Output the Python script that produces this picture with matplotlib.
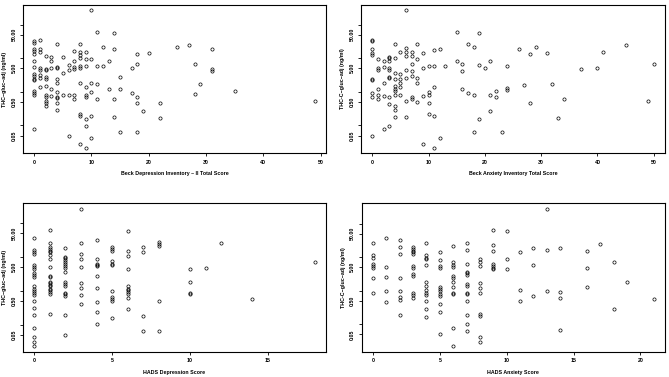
import matplotlib
matplotlib.use("Agg")
import matplotlib.pyplot as plt
from matplotlib.ticker import FixedLocator, FixedFormatter, NullLocator

plt.rcParams['font.family'] = ['Liberation Sans', 'DejaVu Sans']

# ---------------- data ----------------
bdi_score = [
    0, 0, 0, 0, 0, 0, 0, 0, 0, 0, 0, 0, 0, 0, 0,
    1, 1, 1, 1, 1, 1, 1, 1,
    2, 2, 2, 2, 2, 2, 2, 2, 2, 2, 2,
    3, 3, 3, 3, 3,
    4, 4, 4, 4, 4, 4, 4, 4, 4, 4,
    5, 5, 5,
    6, 6, 6, 6,
    7, 7, 7, 7, 7, 7,
    8, 8, 8, 8, 8, 8, 8, 8, 8, 8,
    9, 9, 9, 9, 9, 9, 9, 9, 9,
    10, 10, 10, 10, 10, 10,
    11, 11, 11, 11,
    12, 12,
    13, 13,
    14, 14, 14, 14,
    15, 15, 15,
    17, 17,
    18, 18, 18, 18, 18,
    19, 20, 22, 22, 25, 27, 28, 28, 29, 31, 31, 31, 35, 49]
bdi_thc = [
    31.6, 27.5, 18.6, 15.8, 13.5, 8.1, 5.36, 3.38, 2.94, 2.45, 2.23, 1.02, 0.91, 0.79, 0.077,
    35.4, 18.6, 15.1, 5.0, 4.46, 3.08, 2.56, 1.35,
    12.0, 4.78, 4.36, 2.81, 2.34, 1.44, 0.79, 0.71, 0.52, 0.45, 0.39,
    11.2, 8.1, 5.0, 1.23, 0.74,
    26.2, 5.61, 5.0, 2.45, 1.82, 1.0, 0.69, 0.66, 0.45, 0.29,
    10.7, 3.62, 0.81,
    6.3, 4.46, 0.81, 0.047,
    16.9, 8.3, 5.61, 4.67, 0.81, 0.62,
    26.2, 15.1, 12.6, 10.4, 6.0, 5.0, 1.86, 0.22, 0.195, 0.028,
    15.1, 9.75, 5.74, 1.35, 0.81, 0.69, 0.158, 0.0975, 0.022,
    262, 9.75, 1.77, 1.0, 0.195, 0.042,
    60, 5.74, 1.66, 0.59,
    21.3, 5.74,
    8.3, 1.20,
    57, 18.2, 0.59, 0.177,
    2.69, 1.23, 0.064,
    5.0, 0.95,
    13.5, 6.9, 0.69, 0.48, 0.064,
    0.275, 14.4, 0.48, 0.17, 21.8, 24.5, 6.6, 0.85, 1.73, 18.6, 4.67, 4.26, 1.02, 0.55]

bai_score = [
    0, 0, 0, 0, 0, 0, 0, 0, 0, 0,
    1, 1, 1, 1, 1, 1,
    2, 2, 2, 2, 2,
    3, 3, 3, 3, 3, 3, 3, 3, 3, 3,
    4, 4, 4, 4, 4, 4, 4, 4, 4, 4, 4,
    5, 5, 5, 5, 5, 5,
    6, 6, 6, 6, 6, 6, 6, 6,
    7, 7, 7, 7, 7, 7, 7,
    8, 8, 8, 8, 8,
    9, 9, 9, 9,
    10, 10, 10, 10, 10,
    11, 11, 11, 11, 11,
    12, 12,
    13,
    15, 15,
    16, 16, 16,
    17, 17,
    18, 18, 18,
    19, 19, 19,
    20,
    21, 21, 21,
    22, 22,
    23,
    24, 24, 24,
    26, 27, 28, 28,
    29, 31, 32, 33, 34, 37, 40, 41, 45, 49, 50]
bai_thc = [
    35.4, 31.6, 18.6, 14.4, 12.3, 2.45, 2.29, 0.95, 0.69, 0.047,
    9.75, 5.0, 4.46, 1.23, 0.81, 0.62,
    8.1, 5.6, 1.82, 0.77, 0.076,
    11.2, 9.9, 8.1, 5.0, 4.36, 2.81, 2.63, 0.68, 0.44, 0.0975,
    26.9, 10.2, 3.5, 2.45, 1.48, 1.23, 1.05, 0.83, 0.39, 0.29, 0.177,
    15.1, 3.38, 2.45, 1.86, 1.35, 0.81,
    262, 19.5, 15.4, 11.7, 4.46, 2.63, 0.52, 0.177,
    15.1, 11.7, 6.9, 4.2, 2.88, 0.69, 0.59,
    26.2, 9.5, 2.63, 1.86, 0.49,
    14.4, 5.0, 0.74, 0.028,
    5.74, 1.0, 0.81, 0.48, 0.22,
    17.8, 5.74, 1.35, 0.195, 0.022,
    18.2, 0.042,
    5.74,
    60, 8.3,
    6.5, 4.26, 1.17,
    26.2, 0.93,
    21.8, 0.83, 0.064,
    57, 6.2, 0.158,
    5.0,
    8.3, 0.79, 0.275,
    1.05, 0.69,
    0.064,
    5.74, 1.26, 1.10,
    18.6, 1.62, 13.5, 0.48,
    21.3, 14.4, 1.73, 0.17, 0.59, 4.67, 5.1, 15.5, 24.4, 0.55, 6.6]

hadsd_score = [
    0, 0, 0, 0, 0, 0, 0, 0, 0, 0, 0, 0, 0, 0, 0, 0, 0, 0, 0, 0, 0, 0,
    1, 1, 1, 1, 1, 1, 1, 1, 1, 1, 1, 1, 1, 1, 1, 1, 1, 1, 1, 1,
    2, 2, 2, 2, 2, 2, 2, 2, 2, 2, 2, 2, 2, 2, 2, 2, 2,
    3, 3, 3, 3, 3, 3, 3, 3, 3,
    4, 4, 4, 4, 4, 4, 4, 4, 4, 4,
    5, 5, 5, 5, 5, 5, 5, 5, 5, 5, 5,
    6, 6, 6, 6, 6, 6, 6, 6, 6, 6, 6,
    7, 7, 7, 7,
    8, 8, 8, 8, 8,
    10, 10, 10, 10,
    11, 12, 14, 18]
hadsd_thc = [
    36.2, 15.8, 13.8, 12.0, 6.0, 5.24, 4.56, 3.46, 3.01, 2.56, 1.41, 1.12, 0.975, 0.85, 0.76,
    0.50, 0.31, 0.19, 0.079, 0.0426, 0.030, 0.0229,
    63, 26.9, 19.9, 17.7, 15.5, 13.8, 11.2, 8.5, 5.24, 2.81, 2.56, 1.86, 1.69, 1.51, 1.35,
    1.17, 1.04, 0.93, 0.81, 0.204,
    18.2, 10.2, 9.1, 7.9, 7.1, 6.15, 5.36, 4.78, 3.71, 1.86, 1.55, 1.38, 0.89, 0.79, 0.71,
    0.186, 0.049,
    268, 26.9, 12.3, 8.5, 5.24, 1.73, 1.23, 0.74, 0.40,
    33.0, 8.9, 6.3, 5.9, 5.36, 2.75, 1.23, 0.456, 0.23, 0.102,
    19.5, 17.3, 15.5, 7.4, 6.4, 5.74, 0.975, 0.66, 0.59, 0.51, 0.162,
    60, 15.1, 10.7, 4.56, 1.35, 1.17, 1.04, 0.91, 0.79, 0.63, 0.28,
    19.5, 14.1, 0.177, 0.066,
    27.5, 24.5, 21.8, 0.51, 0.066,
    4.36, 1.82, 0.85, 0.83,
    4.78, 25.6, 0.56, 6.9]

hadsa_score = [
    0, 0, 0, 0, 0, 0, 0, 0,
    1, 1, 1, 1, 1,
    2, 2, 2, 2, 2, 2, 2, 2,
    3, 3, 3, 3, 3, 3, 3, 3, 3, 3, 3, 3,
    4, 4, 4, 4, 4, 4, 4, 4, 4, 4, 4, 4, 4,
    5, 5, 5, 5, 5, 5, 5, 5, 5, 5, 5, 5,
    6, 6, 6, 6, 6, 6, 6, 6, 6, 6, 6, 6,
    7, 7, 7, 7, 7, 7, 7, 7, 7, 7, 7, 7, 7, 7,
    8, 8, 8, 8, 8, 8, 8, 8, 8, 8,
    9, 9, 9, 9, 9, 9, 9,
    10, 10, 10,
    11, 11, 11,
    12, 12, 12,
    13, 13, 13,
    14, 14, 14, 14,
    16, 16, 16,
    17, 18, 18, 19, 21]
hadsa_thc = [
    26.9, 11.2, 9.75, 6.15, 5.36, 4.67, 2.39, 0.83,
    36.2, 5.24, 2.62, 0.975, 0.456,
    33.0, 19.9, 12.6, 2.39, 0.975, 0.63, 0.536, 0.19,
    19.9, 17.7, 15.5, 13.8, 12.0, 5.36, 4.67, 3.08, 2.75, 0.85, 0.74, 0.615,
    26.9, 11.2, 9.75, 8.7, 5.9, 1.86, 1.41, 1.07, 0.85, 0.74, 0.49, 0.294, 0.166,
    14.1, 8.5, 5.48, 4.78, 1.29, 1.12, 0.975, 0.81, 0.71, 0.41, 0.234, 0.05,
    21.8, 7.1, 6.0, 5.12, 2.81, 2.45, 1.82, 1.26, 0.85, 0.79, 0.079, 0.0223,
    26.9, 15.8, 6.4, 3.71, 3.30, 2.94, 1.55, 1.41, 0.85, 0.81, 0.49, 0.19, 0.102, 0.064,
    8.9, 7.1, 5.36, 1.73, 1.23, 0.85, 0.204, 0.18, 0.0426, 0.0294,
    63, 22.9, 15.1, 6.4, 5.48, 4.89, 4.46,
    61.5, 8.9, 4.46,
    14.1, 1.04, 0.50,
    18.6, 5.9, 0.72,
    275, 16.6, 0.975,
    19.0, 0.89, 0.615, 0.066,
    14.8, 4.89, 1.26,
    25.1, 7.1, 0.29, 1.86, 0.56]

y_ticks = [0.05, 0.1, 0.5, 1, 5, 10, 50, 100]
y_tick_labels = ["0.05", "", "0.50", "", "5.00", "", "50.00", ""]

panels = [
    dict(x=bdi_score, y=bdi_thc, xticks=[0, 10, 20, 30, 40, 50],
         xlabel="Beck Depression Inventory \u2013 II Total Score",
         ylabel="THC\u2212gluc\u2212adj (ng/ml)"),
    dict(x=bai_score, y=bai_thc, xticks=[0, 10, 20, 30, 40, 50],
         xlabel="Beck Anxiety Inventory Total Score",
         ylabel="THC-C\u2212gluc\u2212adj (ng/ml)"),
    dict(x=hadsd_score, y=hadsd_thc, xticks=[0, 5, 10, 15],
         xlabel="HADS Depression Score",
         ylabel="THC\u2212gluc\u2212adj (ng/ml)"),
    dict(x=hadsa_score, y=hadsa_thc, xticks=[0, 5, 10, 15, 20],
         xlabel="HADS Anxiety Score",
         ylabel="THC-C\u2212gluc\u2212adj (ng/ml)"),
]

W, H = 669, 377
fig = plt.figure(figsize=(W / 100, H / 100), dpi=100)
fig.patch.set_facecolor("white")

# boxes in pixels: (left, top, right, bottom)
boxes = [(23, 5, 326, 153), (361, 5, 665, 153),
         (23, 203.3, 326, 351.7), (361.7, 203.3, 665, 351.7)]

fs = 3.8
for p, (l, t, r, b) in zip(panels, boxes):
    ax = fig.add_axes([l / W, 1 - b / H, (r - l) / W, (b - t) / H])
    assert len(p["x"]) == len(p["y"]), (len(p["x"]), len(p["y"]))
    ax.plot(p["x"], p["y"], linestyle="none", marker="o", markersize=2.3,
            markerfacecolor="none", markeredgecolor="black", markeredgewidth=0.5)
    ax.set_yscale("log")
    ax.margins(x=0.04, y=0.04)
    ax.yaxis.set_major_locator(FixedLocator(y_ticks))
    ax.yaxis.set_major_formatter(FixedFormatter(y_tick_labels))
    ax.yaxis.set_minor_locator(NullLocator())
    ax.set_xticks(p["xticks"])
    ax.set_xticklabels([str(v) for v in p["xticks"]])
    for s in ax.spines.values():
        s.set_linewidth(0.8)
        s.set_color("black")
    ax.tick_params(axis="both", length=2.2, width=0.6, pad=2.5,
                   labelsize=fs, direction="out")
    for lab in ax.get_xticklabels():
        lab.set_fontweight("bold")
    for lab in ax.get_yticklabels():
        lab.set_rotation(90)
        lab.set_va("center")
        lab.set_fontweight("bold")
    ax.set_xlabel(p["xlabel"], fontsize=fs, fontweight="bold", labelpad=5)
    ax.set_ylabel(p["ylabel"], fontsize=fs, fontweight="bold", labelpad=3)

fig.savefig("out.png", dpi=100, facecolor="white")
